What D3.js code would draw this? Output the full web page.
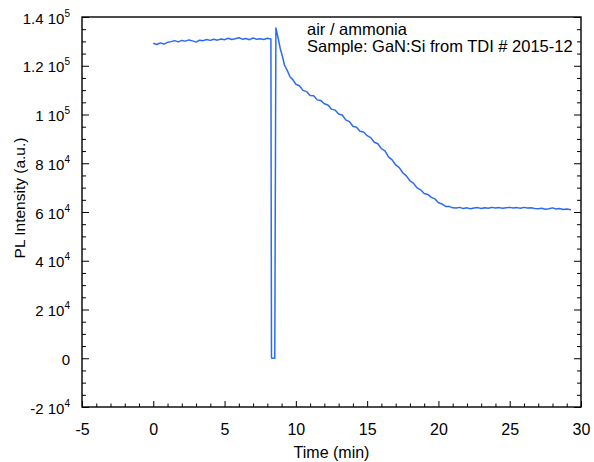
<!DOCTYPE html>
<html>
<head>
<meta charset="utf-8">
<script src="https://cdn.jsdelivr.net/npm/d3@7/dist/d3.min.js"></script>
<style>
  body { margin: 0; background: #fff; }
  svg { display: block; font-family: "Liberation Sans", Arial, sans-serif; }
</style>
</head>
<body>
<svg id="chart" width="594" height="462"></svg>
<script>
// time (min) and PL intensity (a.u.)
const timeMin = [
  0, 0.25, 0.5, 0.75, 1, 1.25, 1.5, 1.75, 2, 2.25, 2.5, 2.75, 3, 3.25, 3.5, 3.75,
  4, 4.25, 4.5, 4.75, 5, 5.25, 5.5, 5.75, 6, 6.25, 6.5, 6.75, 7, 7.25, 7.5, 7.75,
  8, 8.25, 8.29, 8.32, 8.52, 8.6, 8.75, 8.9, 9.05, 9.2, 9.4, 9.6, 9.8, 10,
  10.25, 10.5, 10.75, 11, 11.25, 11.5, 11.75, 12, 12.25, 12.5, 12.75, 13, 13.25,
  13.5, 13.75, 14, 14.25, 14.5, 14.75, 15, 15.25, 15.5, 15.75, 16, 16.25, 16.5,
  16.75, 17, 17.25, 17.5, 17.75, 18, 18.25, 18.5, 18.75, 19, 19.25, 19.5, 19.75,
  20, 20.25, 20.5, 20.75, 21, 21.25, 21.5, 21.75, 22, 22.25, 22.5, 22.75, 23,
  23.25, 23.5, 23.75, 24, 24.25, 24.5, 24.75, 25, 25.25, 25.5, 25.75, 26, 26.25,
  26.5, 26.75, 27, 27.25, 27.5, 27.75, 28, 28.25, 28.5, 28.75, 29, 29.3
];
const intensity = [
  129200, 128700, 129400, 128900, 129600, 129900, 130300, 129800, 130400, 130100,
  130600, 130200, 129700, 130500, 130300, 130800, 130400, 130900, 130500, 131000,
  130700, 131300, 130800, 131100, 131500, 130900, 131200, 130700, 131400, 130900,
  131100, 130800, 131300, 131000, 500, 0, 0, 135500, 131500, 127200, 124000,
  120300, 118000, 115400, 114200, 112400, 111800, 109900, 109400, 107800, 107700,
  106000, 105700, 104400, 103900, 102200, 101800, 100200, 99800, 97800, 97100,
  95200, 94800, 93100, 92800, 91300, 90500, 88600, 88000, 86000, 85100, 82600,
  81400, 79300, 78200, 76100, 74800, 72800, 71800, 69900, 69100, 67600, 67200,
  66000, 65400, 63800, 63300, 62300, 62300, 61700, 61600, 61900, 61400, 61700,
  61300, 61600, 61800, 61400, 61700, 61500, 61900, 61600, 61800, 61500, 61700,
  61900, 61600, 61800, 61500, 61900, 61600, 61700, 61400, 61300, 61500, 61100,
  61300, 61700, 61200, 61400, 61000, 61200, 60900
];
const xMajorTicks = [-5, 0, 5, 10, 15, 20, 25, 30];
const yMajorTicks = [-20000, 0, 20000, 40000, 60000, 80000, 100000, 120000, 140000];
const noteLines = ["air / ammonia", "Sample: GaN:Si from TDI # 2015-12"];

const svg = d3.select("#chart");
const plot = { left: 82, right: 581, top: 17, bottom: 407 };

const x = d3.scaleLinear().domain([-5, 30]).range([plot.left, plot.right]);
const y = d3.scaleLinear().domain([-20000, 140000]).range([plot.bottom, plot.top]);

const xMinor = d3.range(-5, 30.001, 1).filter(v => !xMajorTicks.includes(v));
const yMinor = d3.range(-20000, 140001, 5000).filter(v => !yMajorTicks.includes(v));

const tidy = (g) => {
  g.select(".domain").remove();
  g.selectAll(".tick line").attr("stroke", "#000").attr("stroke-width", 1);
};

// bottom axis, ticks pointing inward
svg.append("g")
  .attr("transform", `translate(0,${plot.bottom})`)
  .call(d3.axisBottom(x).tickValues(xMajorTicks).tickSize(-6).tickFormat(d => `${d}`))
  .call(tidy)
  .call(g => g.selectAll(".tick text")
    .attr("fill", "#000").attr("font-size", 16).attr("dy", 0).attr("y", 28)
    .attr("font-family", "Liberation Sans, Arial, sans-serif"));

svg.append("g")
  .attr("transform", `translate(0,${plot.bottom})`)
  .call(d3.axisBottom(x).tickValues(xMinor).tickSize(-3.5).tickFormat(""))
  .call(tidy);

// left axis
const expLabel = (v) => {
  if (v === 0) return { m: "0", e: null };
  const e = Math.floor(Math.log10(Math.abs(v)));
  const m = +(v / Math.pow(10, e)).toFixed(2);
  return { m: `${m} 10`, e: `${e}` };
};

const leftAxis = svg.append("g")
  .attr("transform", `translate(${plot.left},0)`)
  .call(d3.axisLeft(y).tickValues(yMajorTicks).tickSize(-7).tickFormat(""))
  .call(tidy);

leftAxis.selectAll(".tick").each(function(d) {
  const lab = expLabel(d);
  const t = d3.select(this).append("text")
    .attr("x", -12)
    .attr("y", 6)
    .attr("text-anchor", "end")
    .attr("fill", "#000")
    .attr("font-size", 15);
  t.append("tspan").text(lab.m);
  if (lab.e) {
    t.append("tspan").attr("dy", -7).attr("font-size", 10).text(lab.e);
  }
});

svg.append("g")
  .attr("transform", `translate(${plot.left},0)`)
  .call(d3.axisLeft(y).tickValues(yMinor).tickSize(-4).tickFormat(""))
  .call(tidy);

// right axis mirror ticks
svg.append("g")
  .attr("transform", `translate(${plot.right},0)`)
  .call(d3.axisRight(y).tickValues(yMajorTicks).tickSize(-7).tickFormat(""))
  .call(tidy);
svg.append("g")
  .attr("transform", `translate(${plot.right},0)`)
  .call(d3.axisRight(y).tickValues(yMinor).tickSize(-4).tickFormat(""))
  .call(tidy);

// frame
svg.append("rect")
  .attr("x", plot.left).attr("y", plot.top)
  .attr("width", plot.right - plot.left).attr("height", plot.bottom - plot.top)
  .attr("fill", "none").attr("stroke", "#000").attr("stroke-width", 1.4);

// data line
const pts = timeMin.map((t, i) => [t, intensity[i]]);
svg.append("path")
  .datum(pts)
  .attr("fill", "none")
  .attr("stroke", "#2b6bf3")
  .attr("stroke-width", 1.5)
  .attr("stroke-linejoin", "round")
  .attr("d", d3.line().x(d => x(d[0])).y(d => y(d[1])));

// axis titles
svg.append("text")
  .attr("x", (plot.left + plot.right) / 2).attr("y", 458)
  .attr("text-anchor", "middle").attr("font-size", 16).attr("fill", "#000")
  .text("Time (min)");

svg.append("text")
  .attr("transform", `translate(25,198) rotate(-90)`)
  .attr("text-anchor", "middle").attr("font-size", 15.5).attr("fill", "#000")
  .text("PL Intensity (a.u.)");

// annotation
svg.append("g").selectAll("text")
  .data(noteLines)
  .join("text")
  .attr("x", 307)
  .attr("y", (d, i) => 35 + i * 17)
  .attr("font-size", 16.5)
  .attr("fill", "#000")
  .text(d => d);
</script>
</body>
</html>
